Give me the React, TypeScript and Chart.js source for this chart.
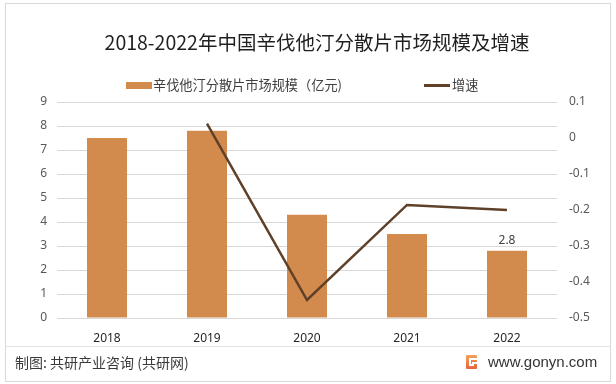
import React, { useEffect, useRef } from "react";
import { Chart, registerables } from "chart.js";

Chart.register(...registerables);

const years = ["2018", "2019", "2020", "2021", "2022"];
const marketSize = [7.5, 7.8, 4.3, 3.5, 2.8];
const growthRate = [null, 0.04, -0.45, -0.186, -0.2];
const labeledBarIndex = [4];
const leftTicks = { min: 0, max: 9, step: 1 };
const rightTicks = { min: -0.5, max: 0.1, step: 0.1 };

const BAR_COLOR = "#D38B4D";
const LINE_COLOR = "#5E4128";
const GRID_COLOR = "#D9D9D9";
const CJK = '"Noto Sans CJK SC", "Noto Sans", sans-serif';

const barLabelPlugin = {
  id: "barLabel",
  afterDatasetsDraw(chart: any) {
    const meta = chart.getDatasetMeta(0);
    const ctx = chart.ctx;
    ctx.save();
    ctx.font = '12px "Noto Sans", sans-serif';
    ctx.fillStyle = "#404040";
    ctx.textAlign = "center";
    ctx.textBaseline = "bottom";
    labeledBarIndex.forEach((i) => {
      const el = meta.data[i];
      if (!el) return;
      ctx.fillText(String(marketSize[i]), el.x, el.y - 4);
    });
    ctx.restore();
  },
};

export default function App() {
  const ref = useRef<HTMLCanvasElement | null>(null);

  useEffect(() => {
    if (!ref.current) return;
    const chart = new Chart(ref.current, {
      type: "bar",
      data: {
        labels: years,
        datasets: [
          {
            type: "bar",
            label: "辛伐他汀分散片市场规模（亿元)",
            data: marketSize,
            backgroundColor: BAR_COLOR,
            barPercentage: 0.4,
            categoryPercentage: 1,
            yAxisID: "y",
            order: 2,
          },
          {
            type: "line",
            label: "增速",
            data: growthRate as any,
            borderColor: LINE_COLOR,
            backgroundColor: LINE_COLOR,
            borderWidth: 2.5,
            pointRadius: 0,
            tension: 0,
            yAxisID: "y1",
            order: 1,
          } as any,
        ],
      },
      options: {
        animation: false,
        responsive: false,
        maintainAspectRatio: false,
        layout: { padding: { left: 10, right: 20, top: 102, bottom: 40 } },
        plugins: {
          legend: { display: false },
          title: { display: false },
          tooltip: { enabled: false },
        },
        scales: {
          x: {
            grid: { display: false, drawTicks: false },
            border: { display: false },
            ticks: {
              padding: 13,
              color: "#262626",
              font: { size: 12, family: '"Noto Sans", sans-serif' },
            },
            afterFit(scale: any) {
              scale.height = 26;
            },
          },
          y: {
            position: "left",
            min: leftTicks.min,
            max: leftTicks.max,
            grid: { color: GRID_COLOR, drawTicks: false, lineWidth: 1 },
            border: { display: false },
            ticks: {
              stepSize: leftTicks.step,
              padding: 10,
              color: "#595959",
              font: { size: 12, family: '"Noto Sans", sans-serif' },
            },
            afterFit(scale: any) {
              scale.width = 47;
            },
          },
          y1: {
            position: "right",
            min: rightTicks.min,
            max: rightTicks.max,
            grid: { display: false, drawTicks: false },
            border: { display: false },
            ticks: {
              stepSize: rightTicks.step,
              padding: 12,
              color: "#595959",
              font: { size: 12, family: '"Noto Sans", sans-serif' },
              callback: (v: any) => {
                const n = Math.round(Number(v) * 10) / 10;
                return n === 0 ? "0" : n.toFixed(1);
              },
            },
            afterFit(scale: any) {
              scale.width = 39;
            },
          },
        },
      },
      plugins: [barLabelPlugin],
    });
    return () => chart.destroy();
  }, []);

  return (
    <div
      style={{
        position: "fixed",
        left: 0,
        top: 0,
        width: 616,
        height: 384,
        background: "#fff",
        overflow: "hidden",
        fontFamily: CJK,
      }}
    >
      <div
        style={{
          position: "absolute",
          left: 5,
          top: 3,
          width: 604,
          height: 377,
          border: "1px solid #D9D9D9",
        }}
      />
      <canvas
        ref={ref}
        width={616}
        height={384}
        style={{ position: "absolute", left: 0, top: 0, width: 616, height: 384 }}
      />
      <div
        style={{
          position: "absolute",
          left: 0,
          width: 634,
          top: 28,
          textAlign: "center",
          fontSize: 19.5,
          lineHeight: "28px",
          color: "#1f1f1f",
          whiteSpace: "nowrap",
        }}
      >
        2018-2022年中国辛伐他汀分散片市场规模及增速
      </div>
      <div style={{ position: "absolute", left: 126, top: 82, width: 26, height: 7, background: BAR_COLOR }} />
      <div
        style={{
          position: "absolute",
          left: 153,
          top: 76,
          fontSize: 13.2,
          lineHeight: "18px",
          color: "#404040",
          whiteSpace: "nowrap",
        }}
      >
        辛伐他汀分散片市场规模（亿元)
      </div>
      <div style={{ position: "absolute", left: 424, top: 84, width: 26, height: 3, background: LINE_COLOR }} />
      <div
        style={{
          position: "absolute",
          left: 452,
          top: 76,
          fontSize: 13.2,
          lineHeight: "18px",
          color: "#404040",
          whiteSpace: "nowrap",
        }}
      >
        增速
      </div>
      <div style={{ position: "absolute", left: 6, top: 346, width: 604, height: 1, background: "#E3E3E3" }} />
      <div
        style={{
          position: "absolute",
          left: 15,
          top: 352,
          fontSize: 14,
          lineHeight: "20px",
          color: "#3a3a3a",
          whiteSpace: "nowrap",
        }}
      >
        制图: 共研产业咨询 (共研网)
      </div>
      <svg
        style={{ position: "absolute", left: 466, top: 355 }}
        width={11}
        height={14}
        viewBox="0 0 11 14"
      >
        <defs>
          <linearGradient id="lg" x1="0" y1="0" x2="0" y2="1">
            <stop offset="0" stopColor="#F5A05A" />
            <stop offset="1" stopColor="#E8643A" />
          </linearGradient>
        </defs>
        <rect x={0} y={0} width={11} height={14} rx={1} fill="url(#lg)" />
        <rect x={3} y={3} width={8} height={2} fill="#fff" />
        <rect x={3} y={3} width={2} height={8} fill="#fff" />
        <rect x={3} y={9} width={5} height={2} fill="#fff" />
        <rect x={6} y={7} width={5} height={2} fill="#fff" />
      </svg>
      <div
        style={{
          position: "absolute",
          left: 488,
          top: 352,
          fontSize: 15,
          lineHeight: "20px",
          color: "#333",
          fontFamily: '"Liberation Sans", Arial, sans-serif',
          whiteSpace: "nowrap",
        }}
      >
        www.gonyn.com
      </div>
    </div>
  );
}
